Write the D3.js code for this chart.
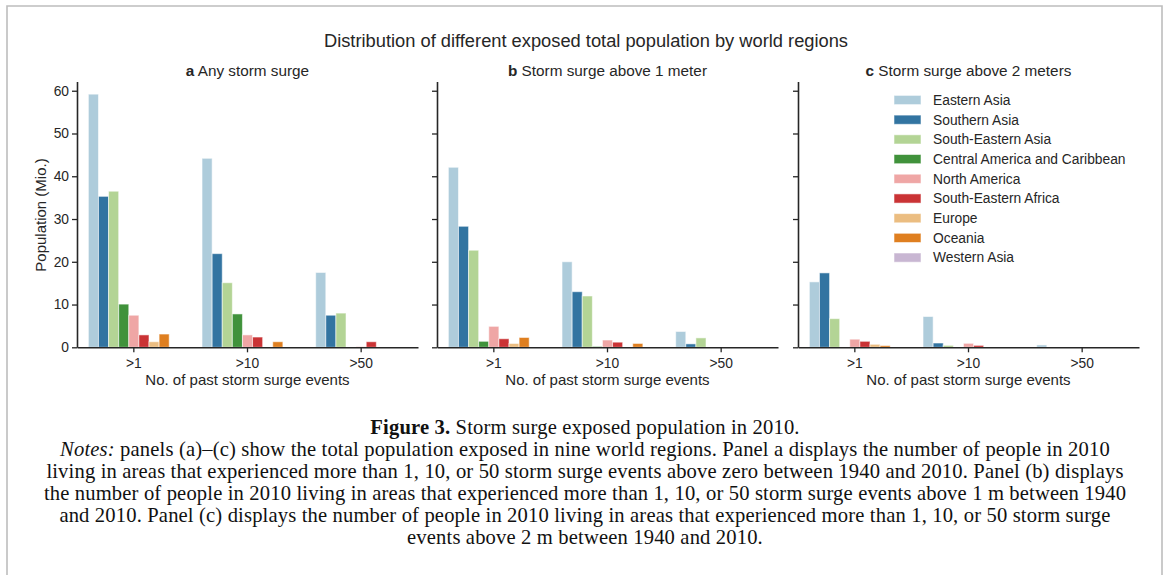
<!DOCTYPE html>
<html>
<head>
<meta charset="utf-8">
<script src="https://cdn.jsdelivr.net/npm/d3@7"></script>
<style>
  html, body { margin: 0; padding: 0; background: #fff; }
  svg { display: block; }
</style>
</head>
<body>
<svg id="fig" width="1170" height="575"></svg>
<script>
// Event-count thresholds on the x axis
const thresholds = [">1", ">10", ">50"];

// World regions (legend order = bar order within each group)
const regions = [
  "Eastern Asia", "Southern Asia", "South-Eastern Asia",
  "Central America and Caribbean", "North America", "South-Eastern Africa",
  "Europe", "Oceania", "Western Asia"
];

// Paired palette, one colour per region
const regionColors = [
  "#a6cee3", "#1f78b4", "#b2df8a", "#33a02c", "#fb9a99",
  "#e31a1c", "#fdbf6f", "#ff7f00", "#cab2d6"
];

// Exposed population (millions), rows = regions, columns = thresholds
const anySurge = [
  [59.2, 44.2, 17.5],
  [35.3, 21.9, 7.5],
  [36.5, 15.1, 8.0],
  [10.1, 7.8, 0],
  [7.5, 2.9, 0.15],
  [2.9, 2.4, 1.3],
  [1.3, 0, 0],
  [3.1, 1.3, 0],
  [0, 0, 0]
];
const surgeAbove1m = [
  [42.1, 20.0, 3.7],
  [28.3, 13.0, 0.8],
  [22.7, 12.0, 2.2],
  [1.4, 0.2, 0],
  [4.9, 1.7, 0],
  [2.0, 1.2, 0],
  [0.9, 0, 0],
  [2.3, 0.9, 0],
  [0, 0, 0]
];
const surgeAbove2m = [
  [15.3, 7.2, 0.55],
  [17.4, 1.0, 0],
  [6.7, 0.45, 0],
  [0, 0, 0],
  [1.9, 0.93, 0],
  [1.4, 0.45, 0],
  [0.7, 0, 0],
  [0.4, 0, 0],
  [0, 0, 0]
];

const panelLetters = ["a", "b", "c"];
const panelTitles = ["Any storm surge", "Storm surge above 1 meter", "Storm surge above 2 meters"];
const panelData = [anySurge, surgeAbove1m, surgeAbove2m];
const yTicks = [0, 10, 20, 30, 40, 50, 60];

const mainTitle = "Distribution of different exposed total population by world regions";
const yLabel = "Population (Mio.)";
const xLabel = "No. of past storm surge events";

const captionLines = [
  [["b", "Figure 3."], ["n", " Storm surge exposed population in 2010."]],
  [["i", "Notes:"], ["n", " panels (a)–(c) show the total population exposed in nine world regions. Panel a displays the number of people in 2010"]],
  [["n", "living in areas that experienced more than 1, 10, or 50 storm surge events above zero between 1940 and 2010. Panel (b) displays"]],
  [["n", "the number of people in 2010 living in areas that experienced more than 1, 10, or 50 storm surge events above 1 m between 1940"]],
  [["n", "and 2010. Panel (c) displays the number of people in 2010 living in areas that experienced more than 1, 10, or 50 storm surge"]],
  [["n", "events above 2 m between 1940 and 2010."]]
];

// ---- layout ----
const W = 1170;
const sans = "'Liberation Sans', Arial, Helvetica, sans-serif";
const serif = "'Liberation Serif', 'Times New Roman', serif";
const textColor = "#262626";
const panelLeft = [77, 437, 798];
const panelWidth = 341;
const plotTop = 81.5, plotBottom = 347.3;

// muted fills, like a 0.75 saturation factor
const fills = regionColors.map(c => { const h = d3.hsl(c); h.s *= 0.75; return h.formatHex(); });

const svg = d3.select("#fig");
svg.append("rect").attr("width", W).attr("height", 575).attr("fill", "#fff");

// figure frame
svg.append("path")
  .attr("d", "M7,580 V6 H1162 V580")
  .attr("fill", "none").attr("stroke", "#bdbdbd").attr("stroke-width", 1.6);

svg.append("text")
  .attr("x", 586).attr("y", 41).attr("dy", "0.35em")
  .attr("text-anchor", "middle")
  .attr("font-family", sans).attr("font-size", 18.3).attr("fill", textColor)
  .text(mainTitle);

const yMax = d3.max(panelData.flat(2)) * 1.05;
const y = d3.scaleLinear().domain([0, yMax]).range([plotBottom, plotTop]);

panelData.forEach((data, p) => {
  const g = svg.append("g").attr("transform", `translate(${panelLeft[p]},0)`);
  const x = d3.scaleBand().domain(thresholds).range([0, panelWidth]).paddingInner(0.2).paddingOuter(0.1);
  const xr = d3.scaleBand().domain(regions).range([0, x.bandwidth()]);

  // bars
  regions.forEach((r, ri) => {
    g.append("g").selectAll("rect")
      .data(thresholds.map((t, ti) => ({ t, v: data[ri][ti] })).filter(d => d.v > 0))
      .join("rect")
      .attr("x", d => x(d.t) + xr(r))
      .attr("width", xr.bandwidth())
      .attr("y", d => y(d.v))
      .attr("height", d => y(0) - y(d.v))
      .attr("fill", fills[ri])
      .attr("stroke", "rgba(255,255,255,0.55)")
      .attr("stroke-width", 1);
  });

  // y axis
  const ya = g.append("g")
    .call(d3.axisLeft(y).tickValues(yTicks).tickSize(5).tickSizeOuter(0).tickPadding(3)
      .tickFormat(p === 0 ? d3.format("d") : () => ""));
  // x axis
  const xa = g.append("g").attr("transform", `translate(0,${plotBottom})`)
    .call(d3.axisBottom(x).tickSize(5).tickSizeOuter(0).tickPadding(4));

  [ya, xa].forEach(a => {
    a.select(".domain").attr("stroke", "#262626").attr("stroke-width", 1.6);
    a.selectAll(".tick line").attr("stroke", "#262626").attr("stroke-width", 1.3);
    a.selectAll(".tick text").attr("font-family", sans).attr("font-size", 13.8).attr("fill", textColor);
  });
  xa.selectAll(".tick text").attr("dy", "0.85em");

  // x label
  g.append("text")
    .attr("x", panelWidth / 2).attr("y", 380).attr("dy", "0.35em")
    .attr("text-anchor", "middle")
    .attr("font-family", sans).attr("font-size", 15).attr("fill", textColor)
    .text(xLabel);

  // panel title
  const pt = g.append("text")
    .attr("x", panelWidth / 2).attr("y", 71).attr("dy", "0.35em")
    .attr("text-anchor", "middle")
    .attr("font-family", sans).attr("font-size", 15.3).attr("fill", textColor);
  pt.append("tspan").attr("font-weight", "bold").text(panelLetters[p]);
  pt.append("tspan").text(" " + panelTitles[p]);

  if (p === 0) {
    g.append("text")
      .attr("transform", `translate(-36,215) rotate(-90)`)
      .attr("dy", "0.35em")
      .attr("text-anchor", "middle")
      .attr("font-family", sans).attr("font-size", 15).attr("fill", textColor)
      .text(yLabel);
  }
});

// legend inside panel c
const legend = svg.append("g").attr("transform", "translate(894,100)");
regions.forEach((r, i) => {
  const row = legend.append("g").attr("transform", `translate(0,${i * 19.7})`);
  row.append("rect")
    .attr("x", 0).attr("y", -4.6).attr("width", 27).attr("height", 9.2)
    .attr("fill", fills[i])
    .attr("stroke", "rgba(255,255,255,0.55)").attr("stroke-width", 1);
  row.append("text")
    .attr("x", 39).attr("y", 0).attr("dy", "0.35em")
    .attr("font-family", sans).attr("font-size", 13.8).attr("fill", textColor)
    .text(r);
});

// caption
const cap = svg.append("g");
captionLines.forEach((parts, i) => {
  const t = cap.append("text")
    .attr("x", 585).attr("y", 427 + i * 22).attr("dy", "0.35em")
    .attr("text-anchor", "middle")
    .attr("font-family", serif).attr("font-size", 20.6).attr("letter-spacing", 0.15).attr("fill", "#111");
  parts.forEach(([style, s]) => {
    const ts = t.append("tspan").text(s);
    if (style === "b") ts.attr("font-weight", "bold");
    if (style === "i") ts.attr("font-style", "italic");
  });
});
</script>
</body>
</html>
